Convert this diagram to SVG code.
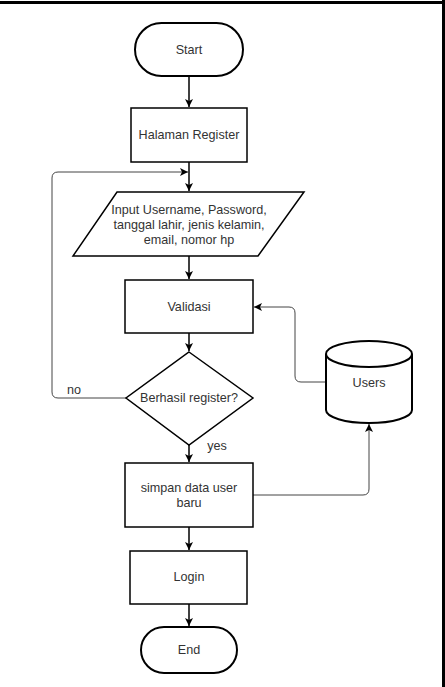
<svg xmlns="http://www.w3.org/2000/svg" width="445" height="687" viewBox="0 0 445 687">
<style>
.sh{fill:#fff;stroke:#000;stroke-width:1.5}
.term{fill:#fff;stroke:#000;stroke-width:2}
.t{font-family:"Liberation Sans",Arial,sans-serif;font-size:12.6px;fill:#333;text-anchor:middle}
.main{fill:none;stroke:#000;stroke-width:1.5}
.side{fill:none;stroke:#444;stroke-width:1}
</style>
<defs>
<marker id="ah" viewBox="0 0 10 10" refX="10" refY="5" markerWidth="8" markerHeight="8" markerUnits="userSpaceOnUse" orient="auto">
<path d="M0,0 L10,5 L0,10 L2.5,5 z" fill="#000"/>
</marker>
</defs>
<rect x="0" y="0" width="445" height="687" fill="#fff"/>
<line x1="0" y1="2.5" x2="445" y2="2.5" stroke="#000" stroke-width="3"/>
<line x1="443.5" y1="0" x2="443.5" y2="687" stroke="#000" stroke-width="3"/>

<g id="connectors">
<line class="main" x1="189" y1="76" x2="189" y2="107" marker-end="url(#ah)"/>
<line class="main" x1="189" y1="162" x2="189" y2="191" marker-end="url(#ah)"/>
<line class="main" x1="189" y1="256" x2="189" y2="279" marker-end="url(#ah)"/>
<line class="main" x1="189" y1="333" x2="189" y2="351" marker-end="url(#ah)"/>
<line class="main" x1="189" y1="445" x2="189" y2="462" marker-end="url(#ah)"/>
<line class="main" x1="189" y1="527" x2="189" y2="550" marker-end="url(#ah)"/>
<line class="main" x1="189" y1="604" x2="189" y2="626" marker-end="url(#ah)"/>
<path class="side" d="M126,398 H58 Q52,398 52,392 V178 Q52,172 58,172 H188" marker-end="url(#ah)"/>
<path class="side" d="M326,382 H301 Q295,382 295,376 V313 Q295,307 289,307 H254" marker-end="url(#ah)"/>
<path class="side" d="M253,495 H363 Q369,495 369,489 V424" marker-end="url(#ah)"/>
<text class="t" x="74" y="394">no</text>
<text class="t" x="217" y="450">yes</text>
</g>

<g id="start">
<rect class="term" x="135" y="23" width="108" height="53" rx="26.5"/>
<text class="t" x="189" y="54">Start</text>
</g>
<g id="halaman-register">
<rect class="sh" x="131" y="108" width="116" height="54"/>
<text class="t" x="189" y="139">Halaman Register</text>
</g>
<g id="input">
<polygon class="sh" points="117,192 304,192 258,256 73,256"/>
<text class="t" x="189" y="214">Input Username, Password,</text>
<text class="t" x="189" y="229">tanggal lahir, jenis kelamin,</text>
<text class="t" x="189" y="244">email, nomor hp</text>
</g>
<g id="validasi">
<rect class="sh" x="125" y="280" width="128" height="53"/>
<text class="t" x="189" y="311">Validasi</text>
</g>
<g id="berhasil">
<polygon class="sh" points="189,352 253,398 189,445 126,398"/>
<text class="t" x="189" y="402">Berhasil register?</text>
</g>
<g id="users">
<path class="term" d="M326,354 A43,13 0 0 1 412,354 V410 A43,13 0 0 1 326,410 Z"/>
<path class="term" d="M326,354 A43,13 0 0 0 412,354"/>
<text class="t" x="369" y="387">Users</text>
</g>
<g id="simpan">
<rect class="sh" x="125" y="463" width="128" height="64"/>
<text class="t" x="189" y="492">simpan data user</text>
<text class="t" x="189" y="507">baru</text>
</g>
<g id="login">
<rect class="sh" x="130" y="551" width="117" height="53"/>
<text class="t" x="189" y="581">Login</text>
</g>
<g id="end">
<rect class="term" x="141" y="627" width="96" height="46" rx="23"/>
<text class="t" x="189" y="654">End</text>
</g>
</svg>
